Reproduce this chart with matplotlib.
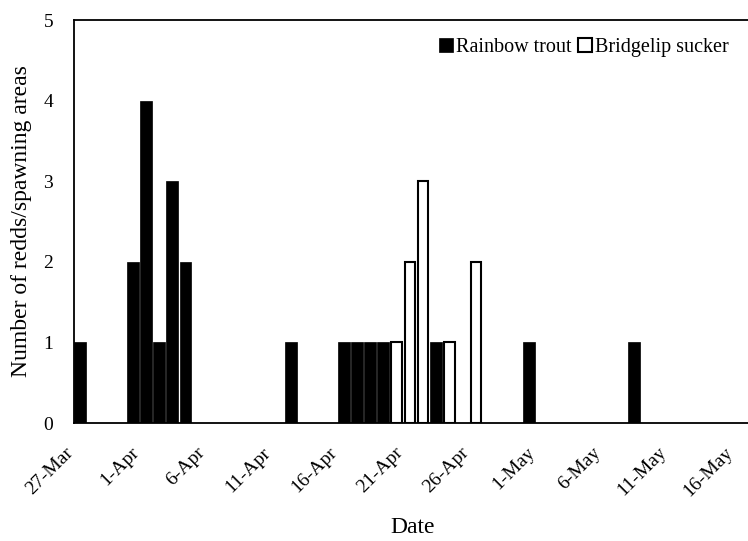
import numpy as np
import pandas as pd
import matplotlib
matplotlib.use("Agg")
import matplotlib.pyplot as plt
from matplotlib.transforms import ScaledTranslation

plt.rcParams['font.family'] = ['Liberation Serif', 'DejaVu Serif']
plt.rcParams['font.size'] = 14

# redds / spawning areas counted per day
trout_dates = ['2004-03-27', '2004-03-31', '2004-04-01', '2004-04-02', '2004-04-03',
               '2004-04-04', '2004-04-12', '2004-04-16', '2004-04-17', '2004-04-18',
               '2004-04-19', '2004-04-23', '2004-04-30', '2004-05-08']
trout_counts = [1, 2, 4, 1, 3, 2, 1, 1, 1, 1, 1, 1, 1, 1]

sucker_dates = ['2004-04-20', '2004-04-21', '2004-04-22', '2004-04-24', '2004-04-26']
sucker_counts = [1, 2, 3, 1, 2]

start = pd.Timestamp('2004-03-27')
tick_dates = pd.date_range(start, periods=11, freq='5D')


def day_of(d):
    return (pd.to_datetime(d) - start).days


fig = plt.figure(figsize=(7.48, 5.41), dpi=100)
ax = fig.add_axes([0.0989, 0.218, 0.905, 0.745])

ax.bar([day_of(d) for d in trout_dates], trout_counts, width=0.9, align='edge',
       color='black', edgecolor='black', linewidth=0.5, label='Rainbow trout')
ax.bar([day_of(d) + 0.05 for d in sucker_dates], sucker_counts, width=0.8, align='edge',
       color='white', edgecolor='black', linewidth=1.5, label='Bridgelip sucker')

ax.set_xlim(0, 51.3)
ax.set_ylim(0, 5)
ax.set_yticks(range(6))
ax.set_xticks([day_of(d) for d in tick_dates])
ax.set_xticklabels([f"{d.day}-{d.strftime('%b')}" for d in tick_dates],
                   rotation=45, ha='right', rotation_mode='anchor')
ax.tick_params(length=0)
ax.tick_params(axis='y', pad=15)
ax.tick_params(axis='x', pad=15)
shift = ScaledTranslation(-7 / 72, 0, fig.dpi_scale_trans)
for lab in ax.get_xticklabels():
    lab.set_transform(lab.get_transform() + shift)

ax.spines['right'].set_visible(False)
for s in ['left', 'bottom', 'top']:
    ax.spines[s].set_linewidth(1.3)

ax.set_xlabel('Date', fontsize=17, labelpad=12)
ax.set_ylabel('Number of redds/spawning areas', fontsize=17, labelpad=8)

ax.legend(loc='upper right', bbox_to_anchor=(0.994, 1.0), ncol=2, frameon=False,
          handlelength=0.7, handleheight=0.7, handletextpad=0.15, columnspacing=0.3,
          fontsize=14.5)

fig.savefig('out.png', dpi=100)
